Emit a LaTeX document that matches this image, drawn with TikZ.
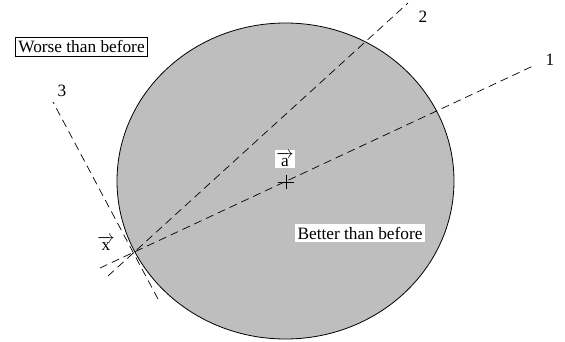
\documentclass[tikz,border=0pt]{standalone}
\usepackage{amsmath}
\usepackage{fontspec}
\setmainfont{Liberation Serif}
\usepackage{tikz}
\usetikzlibrary{positioning,calc}
\definecolor{regiongray}{HTML}{BEBEBE}

\begin{document}
\begin{tikzpicture}[
 x=1pt,y=-1pt,font=\fontsize{17.3}{20}\selectfont,
 probe/.style={dash pattern=on 8pt off 5pt,line width=0.7pt},
 tag/.style={inner sep=1pt},
 whitebox/.style={fill=white,inner sep=3pt}
]
\useasboundingbox (0,0) rectangle (565,341);
\fill[regiongray,draw=black,line width=0.8pt] (285.5,181) ellipse [x radius=168.5,y radius=158];
% contact point and the three probe lines
\coordinate (x) at (135,252);
\coordinate (lo1) at (100,268);
\coordinate (hi1) at (533,66);
\coordinate (lo2) at (108,276);
\coordinate (hi2) at (408,3);
\coordinate (hi3) at (53,102);
\coordinate (lo3) at (158,299);
\foreach \n in {1,2,3}
 \draw[probe] (lo\n) -- (hi\n);
\node[tag] (l1) at (550,60) {1};
\node[tag] (l2) at (423,17) {2};
\node[tag] (l3) at (62,91) {3};
% centre mark
\coordinate (a) at (286,182);
\draw[line width=0.8pt] ($(a)+(-8,0)$) -- ($(a)+(8,0)$) ($(a)+(0,-7)$) -- ($(a)+(0,7)$);
\node[whitebox,inner sep=1.5pt] (alabel) at (285,159) {$\overrightarrow{\,\text{a}\,}$};
\node[tag] (xlabel) at (106,243) {$\overrightarrow{\,\text{x}\,}$};
\node[draw,line width=0.6pt,inner sep=3pt] (worse) at (81.5,47) {Worse than before};
\node[whitebox] (better) at (360,233) {Better than before};
\end{tikzpicture}
\end{document}
